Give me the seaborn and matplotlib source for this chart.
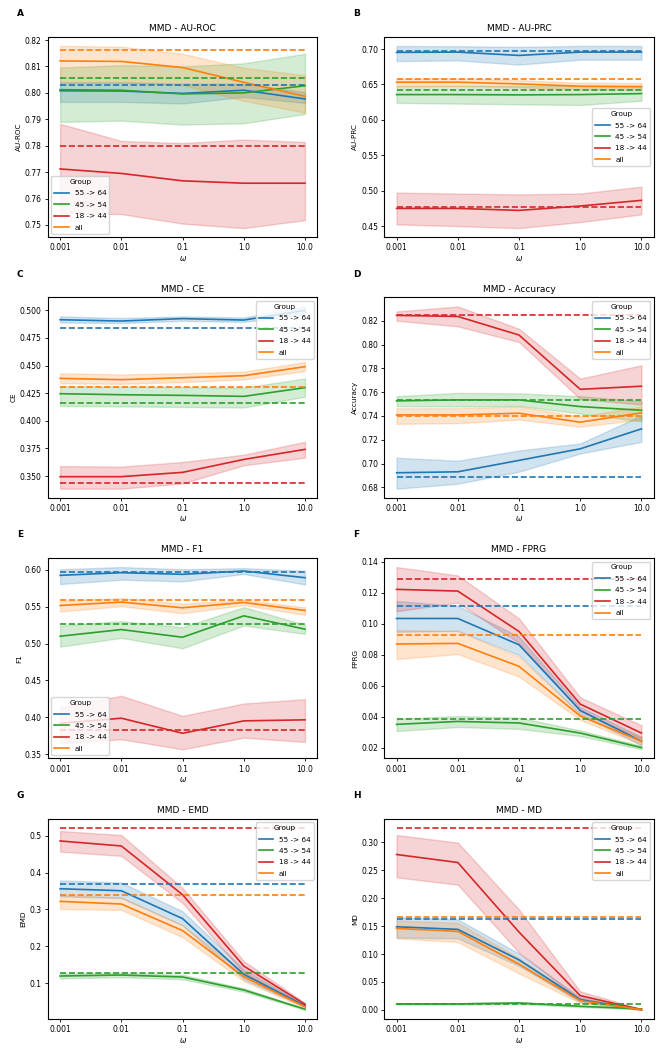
import numpy as np
import pandas as pd
import seaborn as sns
import matplotlib.pyplot as plt

# omega values and age groups
omegas = ["0.001", "0.01", "0.1", "1.0", "10.0"]
groups = ["55 -> 64", "45 -> 54", "18 -> 44", "all"]
colors = {"55 -> 64": "tab:blue", "45 -> 54": "tab:green", "18 -> 44": "tab:red", "all": "tab:orange"}

# AU-ROC
auroc_mid = {"55 -> 64": [0.8008, 0.8007, 0.7998, 0.8010, 0.7977],
             "45 -> 54": [0.8012, 0.8010, 0.7996, 0.8000, 0.8027],
             "18 -> 44": [0.7712, 0.7695, 0.7667, 0.7658, 0.7658],
             "all": [0.8121, 0.8119, 0.8096, 0.8040, 0.7987]}
auroc_lo = {"55 -> 64": [0.7966, 0.7966, 0.7960, 0.7985, 0.7962],
            "45 -> 54": [0.7890, 0.7895, 0.7880, 0.7885, 0.7920],
            "18 -> 44": [0.7545, 0.7541, 0.7505, 0.7488, 0.7518],
            "all": [0.8040, 0.8040, 0.8030, 0.7970, 0.7925]}
auroc_hi = {"55 -> 64": [0.8040, 0.8040, 0.8035, 0.8035, 0.8003],
            "45 -> 54": [0.8096, 0.8105, 0.8100, 0.8112, 0.8148],
            "18 -> 44": [0.7883, 0.7818, 0.7810, 0.7823, 0.7814],
            "all": [0.8178, 0.8175, 0.8148, 0.8095, 0.8067]}
auroc_ref = {"55 -> 64": 0.8031, "45 -> 54": 0.8058, "18 -> 44": 0.7800, "all": 0.8161}

# AU-PRC
auprc_mid = {"55 -> 64": [0.6953, 0.6957, 0.6910, 0.6957, 0.6957],
             "45 -> 54": [0.6357, 0.6357, 0.6353, 0.6357, 0.6371],
             "18 -> 44": [0.4750, 0.4750, 0.4722, 0.4784, 0.4864],
             "all": [0.6532, 0.6532, 0.6508, 0.6475, 0.6470]}
auprc_lo = {"55 -> 64": [0.6830, 0.6840, 0.6780, 0.6850, 0.6850],
            "45 -> 54": [0.6240, 0.6230, 0.6220, 0.6210, 0.6270],
            "18 -> 44": [0.4524, 0.4500, 0.4472, 0.4557, 0.4665],
            "all": [0.6480, 0.6480, 0.6460, 0.6430, 0.6425]}
auprc_hi = {"55 -> 64": [0.7043, 0.7040, 0.7030, 0.7045, 0.7043],
            "45 -> 54": [0.6475, 0.6480, 0.6480, 0.6480, 0.6475],
            "18 -> 44": [0.4973, 0.4960, 0.4948, 0.4960, 0.5057],
            "all": [0.6585, 0.6585, 0.6560, 0.6525, 0.6520]}
auprc_ref = {"55 -> 64": 0.6970, "45 -> 54": 0.6423, "18 -> 44": 0.4774, "all": 0.6580}

# CE
ce_mid = {"55 -> 64": [0.4915, 0.4903, 0.4925, 0.4912, 0.5000],
          "45 -> 54": [0.4245, 0.4236, 0.4230, 0.4221, 0.4300],
          "18 -> 44": [0.3494, 0.3494, 0.3533, 0.3650, 0.3741],
          "all": [0.4384, 0.4372, 0.4390, 0.4408, 0.4490]}
ce_lo = {"55 -> 64": [0.4890, 0.4885, 0.4905, 0.4895, 0.4965],
         "45 -> 54": [0.4134, 0.4130, 0.4125, 0.4120, 0.4218],
         "18 -> 44": [0.3385, 0.3385, 0.3433, 0.3597, 0.3666],
         "all": [0.4340, 0.4335, 0.4350, 0.4375, 0.4450]}
ce_hi = {"55 -> 64": [0.4945, 0.4930, 0.4945, 0.4935, 0.5035],
         "45 -> 54": [0.4310, 0.4310, 0.4305, 0.4300, 0.4384],
         "18 -> 44": [0.3590, 0.3585, 0.3627, 0.3693, 0.3810],
         "all": [0.4430, 0.4420, 0.4430, 0.4445, 0.4532]}
ce_ref = {"55 -> 64": 0.4837, "45 -> 54": 0.4158, "18 -> 44": 0.3437, "all": 0.4309}

# Accuracy
acc_mid = {"55 -> 64": [0.6923, 0.6931, 0.7027, 0.7124, 0.7292],
           "45 -> 54": [0.7527, 0.7535, 0.7535, 0.7479, 0.7448],
           "18 -> 44": [0.8245, 0.8236, 0.8080, 0.7624, 0.7650],
           "all": [0.7409, 0.7409, 0.7423, 0.7348, 0.7426]}
acc_lo = {"55 -> 64": [0.6789, 0.6831, 0.6932, 0.7085, 0.7183],
          "45 -> 54": [0.7482, 0.7480, 0.7485, 0.7420, 0.7356],
          "18 -> 44": [0.8200, 0.8153, 0.8021, 0.7543, 0.7496],
          "all": [0.7334, 0.7340, 0.7370, 0.7310, 0.7370]}
acc_hi = {"55 -> 64": [0.7049, 0.7024, 0.7110, 0.7169, 0.7404],
          "45 -> 54": [0.7566, 0.7594, 0.7590, 0.7566, 0.7524],
          "18 -> 44": [0.8278, 0.8320, 0.8133, 0.7714, 0.7826],
          "all": [0.7465, 0.7465, 0.7480, 0.7395, 0.7480]}
acc_ref = {"55 -> 64": 0.6884, "45 -> 54": 0.7538, "18 -> 44": 0.8245, "all": 0.7404}

# F1
f1_mid = {"55 -> 64": [0.5923, 0.5959, 0.5937, 0.5982, 0.5891],
          "45 -> 54": [0.5099, 0.5189, 0.5085, 0.5375, 0.5194],
          "18 -> 44": [0.3920, 0.3989, 0.3785, 0.3953, 0.3967],
          "all": [0.5515, 0.5561, 0.5484, 0.5556, 0.5447]}
f1_lo = {"55 -> 64": [0.5805, 0.5864, 0.5841, 0.5941, 0.5800],
         "45 -> 54": [0.4958, 0.5076, 0.4936, 0.5244, 0.5130],
         "18 -> 44": [0.3650, 0.3704, 0.3568, 0.3726, 0.3667],
         "all": [0.5434, 0.5505, 0.5411, 0.5520, 0.5389]}
f1_hi = {"55 -> 64": [0.6005, 0.6035, 0.6005, 0.6020, 0.5985],
         "45 -> 54": [0.5244, 0.5303, 0.5221, 0.5493, 0.5253],
         "18 -> 44": [0.4134, 0.4293, 0.4021, 0.4188, 0.4247],
         "all": [0.5579, 0.5615, 0.5540, 0.5590, 0.5490]}
f1_ref = {"55 -> 64": 0.5968, "45 -> 54": 0.5262, "18 -> 44": 0.3826, "all": 0.5583}

# FPRG
fprg_mid = {"55 -> 64": [0.1034, 0.1034, 0.0864, 0.0440, 0.0241],
            "45 -> 54": [0.0350, 0.0369, 0.0359, 0.0294, 0.0200],
            "18 -> 44": [0.1222, 0.1211, 0.0950, 0.0481, 0.0294],
            "all": [0.0869, 0.0873, 0.0725, 0.0404, 0.0241]}
fprg_lo = {"55 -> 64": [0.0948, 0.0954, 0.0798, 0.0415, 0.0215],
           "45 -> 54": [0.0307, 0.0333, 0.0321, 0.0275, 0.0189],
           "18 -> 44": [0.1081, 0.1136, 0.0875, 0.0434, 0.0258],
           "all": [0.0772, 0.0804, 0.0659, 0.0379, 0.0220]}
fprg_hi = {"55 -> 64": [0.1147, 0.1115, 0.0916, 0.0462, 0.0270],
           "45 -> 54": [0.0387, 0.0404, 0.0394, 0.0311, 0.0211],
           "18 -> 44": [0.1366, 0.1312, 0.1034, 0.0524, 0.0344],
           "all": [0.0959, 0.0954, 0.0787, 0.0419, 0.0268]}
fprg_ref = {"55 -> 64": 0.1115, "45 -> 54": 0.0387, "18 -> 44": 0.1286, "all": 0.0929}

# EMD
emd_mid = {"55 -> 64": [0.3562, 0.3508, 0.2753, 0.1243, 0.0389],
           "45 -> 54": [0.1198, 0.1225, 0.1171, 0.0820, 0.0299],
           "18 -> 44": [0.4856, 0.4721, 0.3400, 0.1467, 0.0434],
           "all": [0.3220, 0.3148, 0.2429, 0.1180, 0.0362]}
emd_lo = {"55 -> 64": [0.3355, 0.3310, 0.2573, 0.1110, 0.0360],
          "45 -> 54": [0.1135, 0.1165, 0.1110, 0.0775, 0.0280],
          "18 -> 44": [0.4569, 0.4452, 0.3175, 0.1288, 0.0400],
          "all": [0.3013, 0.2990, 0.2250, 0.1060, 0.0335]}
emd_hi = {"55 -> 64": [0.3787, 0.3730, 0.2950, 0.1380, 0.0420],
          "45 -> 54": [0.1260, 0.1280, 0.1230, 0.0865, 0.0320],
          "18 -> 44": [0.5126, 0.5018, 0.3580, 0.1602, 0.0470],
          "all": [0.3400, 0.3330, 0.2573, 0.1290, 0.0390]}
emd_ref = {"55 -> 64": 0.3688, "45 -> 54": 0.1270, "18 -> 44": 0.5216, "all": 0.3400}

# MD
md_mid = {"55 -> 64": [0.1488, 0.1441, 0.0895, 0.0184, 0.0006],
          "45 -> 54": [0.0107, 0.0107, 0.0125, 0.0065, 0.0018],
          "18 -> 44": [0.2781, 0.2638, 0.1393, 0.0255, 0.0006],
          "all": [0.1458, 0.1405, 0.0818, 0.0166, 0.0006]}
md_lo = {"55 -> 64": [0.1293, 0.1280, 0.0789, 0.0140, 0.0000],
         "45 -> 54": [0.0095, 0.0095, 0.0105, 0.0050, 0.0010],
         "18 -> 44": [0.2372, 0.2241, 0.1026, 0.0178, 0.0000],
         "all": [0.1281, 0.1215, 0.0652, 0.0125, 0.0000]}
md_hi = {"55 -> 64": [0.1660, 0.1620, 0.1008, 0.0225, 0.0012],
         "45 -> 54": [0.0120, 0.0120, 0.0140, 0.0080, 0.0025],
         "18 -> 44": [0.3130, 0.2994, 0.1796, 0.0332, 0.0015],
         "all": [0.1600, 0.1560, 0.0925, 0.0205, 0.0012]}
md_ref = {"55 -> 64": 0.1619, "45 -> 54": 0.0113, "18 -> 44": 0.3261, "all": 0.1654}

metrics = [
    ("AU-ROC", auroc_mid, auroc_lo, auroc_hi, auroc_ref, "lower left"),
    ("AU-PRC", auprc_mid, auprc_lo, auprc_hi, auprc_ref, "center right"),
    ("CE", ce_mid, ce_lo, ce_hi, ce_ref, "upper right"),
    ("Accuracy", acc_mid, acc_lo, acc_hi, acc_ref, "upper right"),
    ("F1", f1_mid, f1_lo, f1_hi, f1_ref, "lower left"),
    ("FPRG", fprg_mid, fprg_lo, fprg_hi, fprg_ref, "upper right"),
    ("EMD", emd_mid, emd_lo, emd_hi, emd_ref, "upper right"),
    ("MD", md_mid, md_lo, md_hi, md_ref, "upper right"),
]


# lower / middle / upper as three rows -> median line + min-max band
def long_form(mid, lo, hi):
    rows = []
    for g in groups:
        for i, w in enumerate(omegas):
            for v in (lo[g][i], mid[g][i], hi[g][i]):
                rows.append({"omega": w, "Group": g, "value": v})
    return pd.DataFrame(rows)


fig, axes = plt.subplots(4, 2, figsize=(6.65, 10.5), dpi=100)
plt.subplots_adjust(left=0.072, right=0.983, top=0.965, bottom=0.0295, wspace=0.249, hspace=0.3)

for ax, letter, (name, mid, lo, hi, ref, loc) in zip(axes.flat, "ABCDEFGH", metrics):
    df = long_form(mid, lo, hi)
    sns.lineplot(data=df, x="omega", y="value", hue="Group", hue_order=groups, palette=colors,
                 estimator="median", errorbar=("pi", 100), lw=1.2, ax=ax)
    for g in groups:
        ax.hlines(ref[g], 0, len(omegas) - 1, colors=colors[g], linestyles="--", lw=1.2)
    ax.set_title("MMD - " + name, fontsize=6.5, pad=4)
    ax.set_xlabel(r"$\omega$", fontsize=5.5, labelpad=1)
    ax.set_ylabel(name, fontsize=5.2, labelpad=2)
    ax.tick_params(labelsize=5.5, length=2.5, width=0.6, pad=2)
    sns.move_legend(ax, loc, fontsize=5.2, title_fontsize=5.2, labelspacing=0.75)
    pos = ax.get_position()
    fig.text(pos.x0 - 31 / 665, pos.y1 + 23 / 1050, letter, fontsize=6.5, weight="bold",
             ha="left", va="center")

plt.savefig("out.png", dpi=100)
